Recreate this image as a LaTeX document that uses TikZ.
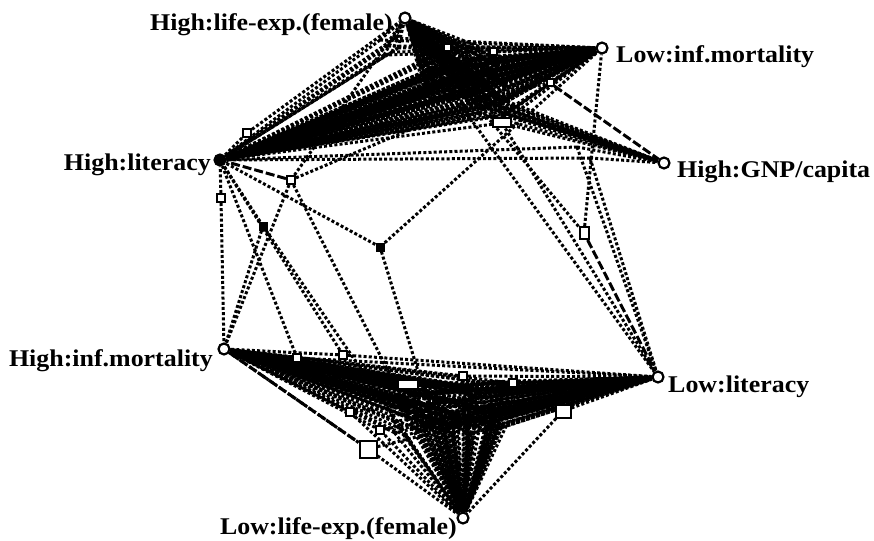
\documentclass[tikz,border=0pt]{standalone}
\usepackage{fontspec}
\setmainfont{Liberation Serif}[FakeStretch=1.08]
\usetikzlibrary{backgrounds}
\begin{document}
\begin{tikzpicture}[x=1pt,y=-1pt,
  cat/.style={circle,draw,line width=2.2pt,fill=white,inner sep=0pt,minimum size=11pt},
  lab/.style={font=\fontsize{24}{26}\selectfont\bfseries,inner sep=0pt},
  link/.style={line width=3pt,dash pattern=on 3pt off 2.2pt},
  longlink/.style={line width=3pt,dash pattern=on 9pt off 3pt},
  case/.style={rectangle,draw,line width=2pt,fill=white,inner sep=0pt,minimum size=8pt},
  casedot/.style={rectangle,fill=black,inner sep=0pt,minimum size=9pt},
]
\useasboundingbox (0,0) rectangle (874,540);
% category nodes
\node[cat] (HL) at (405,18) {};
\node[cat] (LI) at (602,48) {};
\node[cat] (HG) at (664,163) {};
\node[cat,fill=black] (HT) at (220,160) {};
\node[cat] (HI) at (224,349) {};
\node[cat] (LT) at (658,377) {};
\node[cat] (LL) at (463,518) {};
% labels
\node[lab,anchor=base east] (HLt) at (393,31) {High:life-exp.(female)};
\node[lab,anchor=base west] (LIt) at (616,63) {Low:inf.mortality};
\node[lab,anchor=base west] (HGt) at (677,178) {High:GNP/capita};
\node[lab,anchor=base east] (HTt) at (211,170) {High:literacy};
\node[lab,anchor=base east] (HIt) at (213,366) {High:inf.mortality};
\node[lab,anchor=base west] (LTt) at (668,392) {Low:literacy};
\node[lab,anchor=base east] (LLt) at (457,534) {Low:life-exp.(female)};

% dense top cluster
\pgfmathsetseed{12345}
\foreach \i in {1,...,70}{
  \pgfmathsetmacro{\cx}{465+40*rand}
  \pgfmathsetmacro{\cy}{82+24*rand}
  \coordinate (t\i) at (\cx,\cy);
  \begin{pgfonlayer}{background}
  \draw[link] (t\i) -- (HL) (t\i) -- (LI) (t\i) -- (HT);
  \end{pgfonlayer}
}
% cases near the GNP band
\foreach \i in {1,...,14}{
  \pgfmathsetmacro{\cx}{495+18*rand}
  \pgfmathsetmacro{\cy}{108+10*rand}
  \coordinate (g\i) at (\cx,\cy);
  \begin{pgfonlayer}{background}
  \draw[link] (g\i) -- (HL) (g\i) -- (LI) (g\i) -- (HT) (g\i) -- (HG);
  \end{pgfonlayer}
}
\foreach \i/\cx/\cy in {1/380/40,2/388/46,3/395/38,4/392/52,5/384/55,6/398/48}{
  \coordinate (h\i) at (\cx,\cy);
  \begin{pgfonlayer}{background}
  \draw[link] (h\i) -- (HL) (h\i) -- (LI) (h\i) -- (HT);
  \end{pgfonlayer}
}
% dense bottom cluster
\foreach \i in {1,...,75}{
  \pgfmathsetmacro{\cx}{452+60*rand}
  \pgfmathsetmacro{\cy}{410+26*rand}
  \coordinate (b\i) at (\cx,\cy);
  \begin{pgfonlayer}{background}
  \draw[link] (b\i) -- (HI) (b\i) -- (LT) (b\i) -- (LL);
  \end{pgfonlayer}
}
% visible top cases
\foreach \n/\cx/\cy/\w/\h in {ta/447/48/7/7,tb/493/52/7/7,tc/502/123/18/9,td/550/83/7/7}{
  \node[case,minimum width=\w pt,minimum height=\h pt] (\n) at (\cx,\cy) {};
  \begin{pgfonlayer}{background}
  \draw[link] (\n) -- (HL) (\n) -- (LI) (\n) -- (HT);
  \end{pgfonlayer}
}
% visible bottom cases
\foreach \n/\cx/\cy/\w/\h in {ba/408/384/20/9,bb/463/376/8/8,bc/513/383/8/8,bd/368/449/17/17,be/563/411/15/13,bf/350/412/8/8,bg/380/430/8/8}{
  \node[case,minimum width=\w pt,minimum height=\h pt] (\n) at (\cx,\cy) {};
  \begin{pgfonlayer}{background}
  \draw[link] (\n) -- (HI) (\n) -- (LT) (\n) -- (LL);
  \end{pgfonlayer}
}
% mixed cases
\node[case] (m1) at (247,133) {};
\node[case] (m2) at (221,198) {};
\node[case] (m3) at (291,180) {};
\node[casedot] (m4) at (263,226) {};
\node[case] (m5) at (343,355) {};
\node[case] (m6) at (297,358) {};
\node[casedot] (m7) at (380,247) {};
\node[case,minimum width=9pt,minimum height=12pt] (m8) at (584,233) {};
\coordinate (m10) at (577,147);
\coordinate (m11) at (590,158);
\coordinate (m12) at (470,118);
\begin{pgfonlayer}{background}
\draw[link] (m1) -- (HT) (m1) -- (HL);
\draw[link] (m2) -- (HT) (m2) -- (HI);
\draw[longlink] (m3) -- (HT);
\draw[link] (m3) -- (HI) (m3) -- (LI) (m3) -- (HL) (m3) -- (LL);
\draw[link] (m4) -- (HT) (m4) -- (HI) (m4) -- (LL);
\draw[link] (m5) -- (HT) (m5) -- (HI) (m5) -- (LT);
\draw[link] (m6) -- (HT) (m6) -- (HI) (m6) -- (LT);
\draw[link] (m7) -- (HT) (m7) -- (LI) (m7) -- (LL);
\draw[link] (m8) -- (HL) (m8) -- (LI);
\draw[longlink] (m8) -- (LT);
\draw[link] (tc) -- (LT) (tc) -- (HG);
\draw[link] (m10) -- (HT) (m10) -- (HG) (m10) -- (LT);
\draw[link] (m11) -- (HT) (m11) -- (HG) (m11) -- (LT);
\draw[link] (m12) -- (HL) (m12) -- (HT) (m12) -- (LT);
\draw[longlink] (td) -- (HG);
\draw[longlink] (HI) -- (bd);
\end{pgfonlayer}
\end{tikzpicture}
\end{document}
